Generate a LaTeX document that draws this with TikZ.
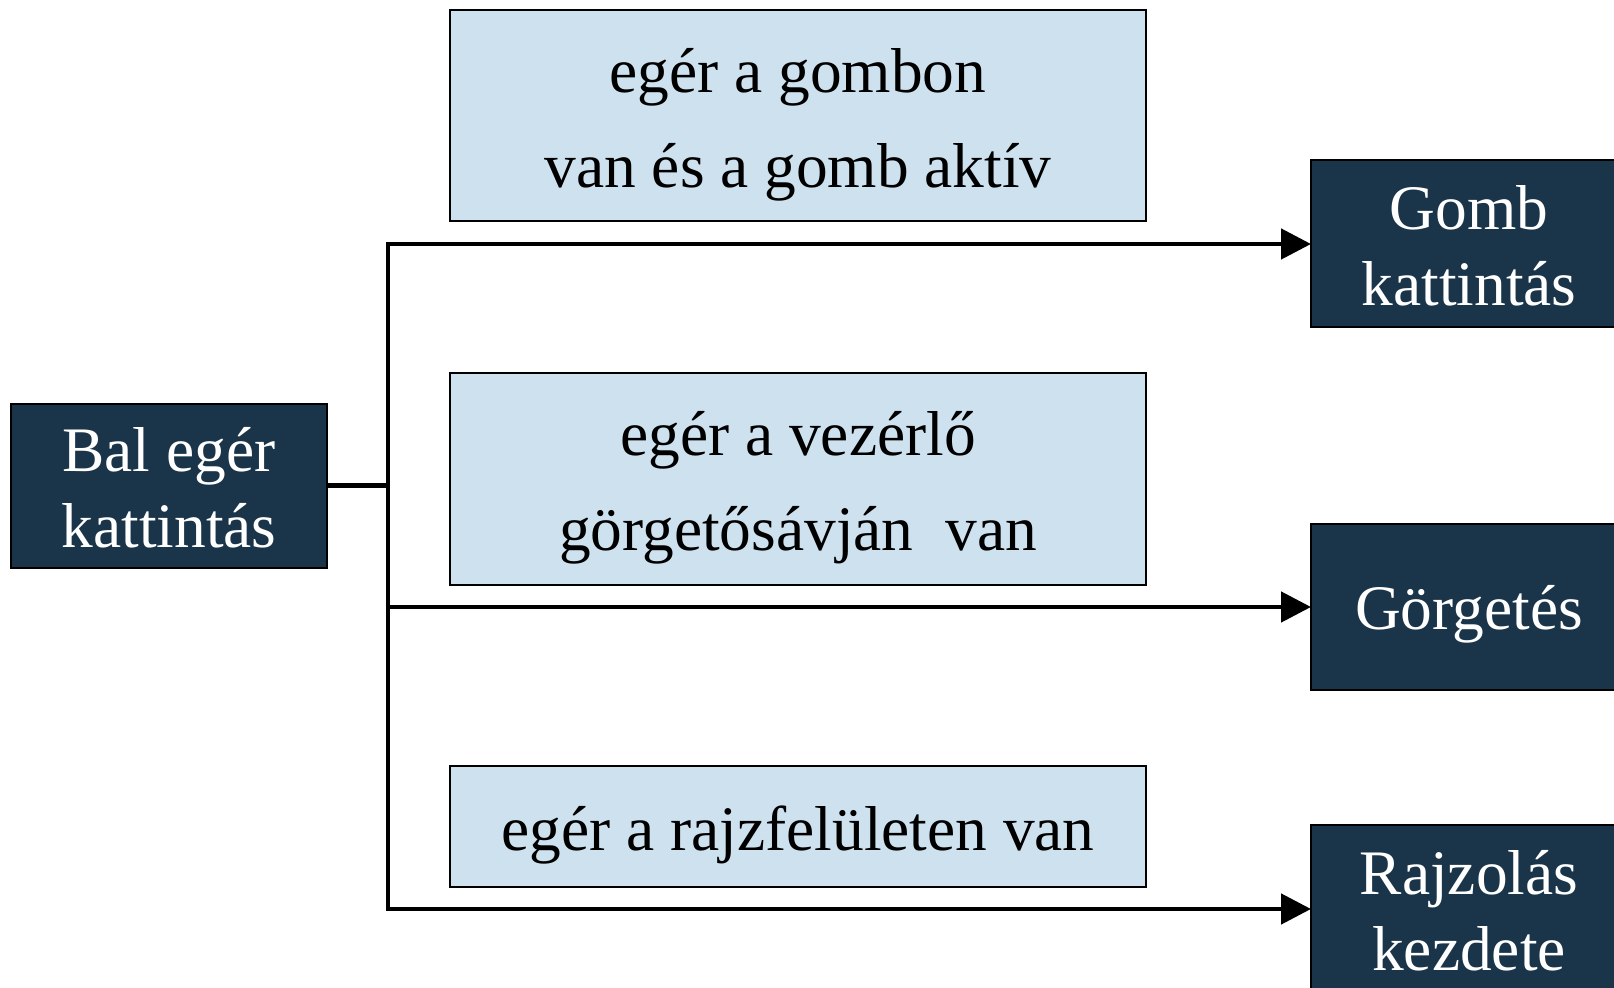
\documentclass[tikz,border=0pt]{standalone}
\usepackage{fontspec}
\setmainfont{Liberation Serif}
\usetikzlibrary{arrows.meta}
\definecolor{navy}{RGB}{26,53,73}
\definecolor{paleblue}{RGB}{205,225,238}
\begin{document}
\begin{tikzpicture}[x=0.5pt,y=-0.5pt,
  darkbox/.style={draw=black, line width=1pt, fill=navy, inner sep=0pt, outer sep=0pt, minimum width=158pt},
  darktext/.style={text=white, align=center, font=\fontsize{31.7}{38}\selectfont, inner sep=0pt, yshift=-1pt},
  condbox/.style={draw=black, line width=1pt, fill=paleblue, inner sep=0pt, outer sep=0pt, minimum width=348pt},
  condtext/.style={text=black, align=center, font=\fontsize{31.7}{47.5}\selectfont, inner sep=0pt, yshift=-4.5pt},
  wire/.style={line width=2.4pt},
  flow/.style={line width=2.4pt, -{Triangle[length=15pt,width=15pt]}},
]
\useasboundingbox (0,0) rectangle (1614,988);
\fill[white] (0,0) rectangle (1614,988);
\clip (0,0) rectangle (1614,988);

% source event
\node[darkbox, minimum height=82pt] (bal) at (169,485.8) {};
\node[darktext] (baltext) at (bal.center) {Bal egér\\kattintás};

% conditions
\node[condbox, minimum height=105.5pt] (c1) at (798,115.7) {};
\node[condtext] (c1text) at (c1.center) {egér a gombon\\van és a gomb aktív};
\node[condbox, minimum height=106pt] (c2) at (798,478.6) {};
\node[condtext] (c2text) at (c2.center) {egér a vezérlő\\görgetősávján~~van};
\node[condbox, minimum height=60.75pt] (c3) at (798,826.5) {};
\node[condtext] (c3text) at (c3.center) {egér a rajzfelületen van};

% resulting actions
\node[darkbox, minimum height=83.5pt] (gomb) at (1469,244) {};
\node[darktext] (gombtext) at (gomb.center) {Gomb\\kattintás};
\node[darkbox, minimum height=83pt] (gorget) at (1469,607) {};
\node[darktext, yshift=-2.5pt] (gorgettext) at (gorget.center) {Görgetés};
\node[darkbox, minimum height=83.5pt] (rajz) at (1469,909) {};
\node[darktext] (rajztext) at (rajz.center) {Rajzolás\\kezdete};

% branching connectors
\coordinate (split) at (388,485.8);
\draw[wire] (bal.east) -- (split);
\draw[flow] (split) |- (gomb.west);
\draw[flow] (split) |- (gorget.west);
\draw[flow] (split) |- (rajz.west);
\end{tikzpicture}
\end{document}
